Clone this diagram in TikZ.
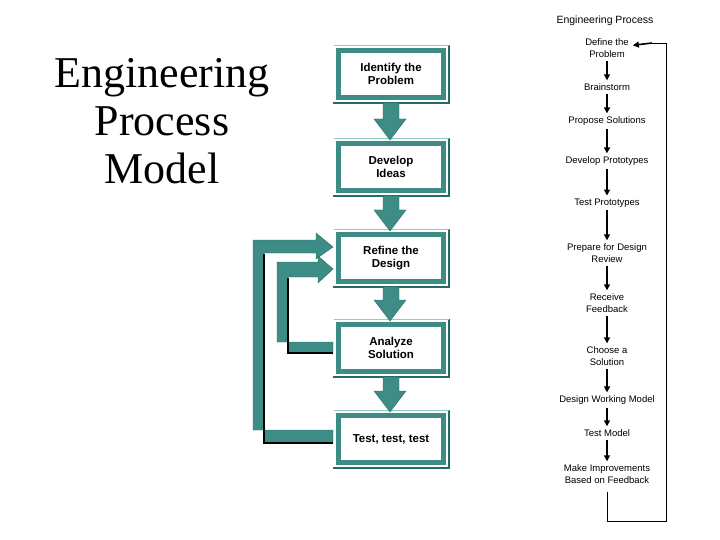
\documentclass[tikz,border=0pt]{standalone}
\usepackage{fontspec}
\setmainfont{Liberation Sans}
\newfontfamily\serifA{Liberation Serif}
\usetikzlibrary{calc,arrows.meta}
\definecolor{teal1}{RGB}{62,140,134}
\definecolor{teal2}{RGB}{40,105,100}
\definecolor{teal3}{RGB}{150,200,195}
\begin{document}
\begin{tikzpicture}[x=1pt,y=-1pt,
  box/.style={draw=teal1,line width=5pt,fill=white,minimum width=105pt,minimum height=47pt,inner sep=0pt,align=center,font=\fontsize{11.5}{13}\selectfont\bfseries},
  stp/.style={inner sep=0pt,align=center,font=\fontsize{9.5}{12}\selectfont},
  sarr/.style={-{Triangle[length=6pt,width=6pt]},line width=1.6pt},
  big/.style={fill=teal1,draw=teal2,line width=0.4pt}]
\useasboundingbox (0,0) rectangle (720,540);
% title
\node[font=\serifA\fontsize{44}{48}\selectfont,align=center] (title) at (162,121) {Engineering\\Process\\Model};
% boxes
\node[box] (b1) at (391,74) {Identify the\\Problem};
\node[box] (b2) at (391,167) {Develop\\Ideas};
\node[box] (b3) at (391,258) {Refine the\\Design};
\node[box] (b4) at (391,348) {Analyze\\Solution};
\node[box] (b5) at (391,439) {Test, test, test};
% shadows on boxes
\foreach \b in {b1,b2,b3,b4,b5}{
  \draw[teal2,line width=1.5pt] ($(\b.north east)+(3,-3)$) -- ($(\b.south east)+(3,3)$) -- ($(\b.south west)+(-3,3)$);
  \draw[teal3,line width=1.2pt] ($(\b.north west)+(-2.5,-2.5)$) -- ($(\b.north east)+(2.5,-2.5)$);
}
% down arrows
\foreach \a/\b in {b1/b2,b2/b3,b3/b4,b4/b5}{
  \path[big] ($(\a.south)+(-8,3)$) -- ($(\a.south)+(8,3)$) -- ($(\b.north)+(8,-22)$) -- ($(\b.north)+(15,-22)$)
     -- ($(\b.north)+(-1,-1)$) -- ($(\b.north)+(-17,-22)$) -- ($(\b.north)+(-8,-22)$) -- cycle;
}
% outer loop
\path[big] ($(b5.west)+(-3,-9)$) -- (253,430) -- (253,240) -- (316,240) -- (316,233) -- ($(b3.west)+(-3,-11)$)
   -- (316,259) -- (316,253) -- (264,253) -- (264,443) -- ($(b5.west)+(-3,4)$) -- cycle;
\draw[line width=1.2pt] (264,254) -- (264,443) -- ($(b5.west)+(-3,4)$);
% inner loop
\path[big] ($(b4.west)+(-3,-6)$) -- (277,342) -- (277,262) -- (318,262) -- (318,256) -- ($(b3.west)+(-3,11)$)
   -- (318,283) -- (318,277) -- (288,277) -- (288,353) -- ($(b4.west)+(-3,5)$) -- cycle;
\draw[line width=1.2pt] (288,278) -- (288,353) -- ($(b4.west)+(-3,5)$);
% right column
\node[font=\fontsize{10.5}{12}\selectfont] (ep) at (605,21) {Engineering Process};
\node[stp] (s1) at (607,48) {Define the\\Problem};
\node[stp] (s2) at (607,87) {Brainstorm};
\node[stp] (s3) at (607,121) {Propose Solutions};
\node[stp] (s4) at (607,161) {Develop Prototypes};
\node[stp] (s5) at (607,203) {Test Prototypes};
\node[stp] (s6) at (607,253) {Prepare for Design\\Review};
\node[stp] (s7) at (607,303) {Receive\\Feedback};
\node[stp] (s8) at (607,356) {Choose a\\Solution};
\node[stp] (s9) at (607,400) {Design Working Model};
\node[stp] (s10) at (607,433) {Test Model};
\node[stp] (s11) at (607,474) {Make Improvements\\Based on Feedback};
\foreach \a/\b in {s1/s2,s2/s3,s3/s4,s4/s5,s5/s6,s6/s7,s7/s8,s8/s9,s9/s10,s10/s11}{
  \draw[sarr] ($(\a.south)+(0,3)$) -- ($(\b.north)+(0,-3)$);
}
\coordinate (c1) at (607,521);
\coordinate (c2) at (666,521);
\coordinate (c3) at (666,43);
\draw[line width=0.9pt] ($(s11.south)+(0,8)$) -- (c1) -- (c2) -- (c3) -- (650,43);
\draw[sarr] (652,43) -- ($(s1.north east)+(4,7)$);
\end{tikzpicture}
\end{document}
